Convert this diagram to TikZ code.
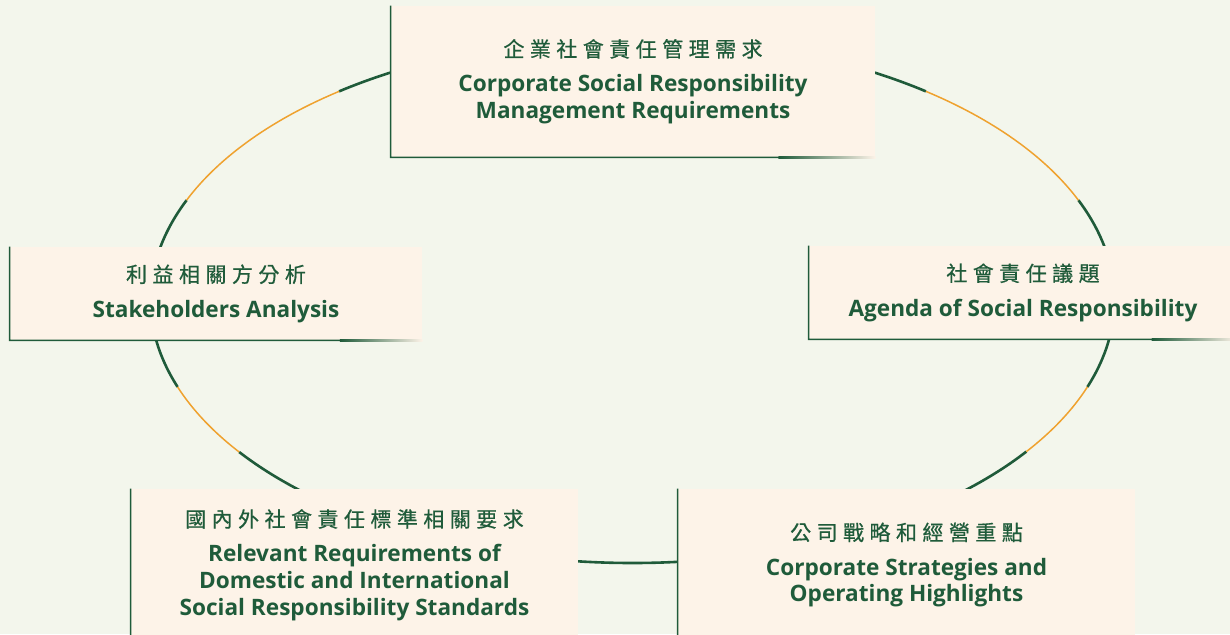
\documentclass[tikz,border=0pt]{standalone}
\usepackage{fontspec}
\usepackage{tikz}
\usetikzlibrary{calc}
\setmainfont{Open Sans}
\newfontfamily\cjk{Noto Sans CJK TC}[LetterSpace=26, FakeBold=0.6]
\newcommand{\zh}[1]{{\cjk\mdseries\fontsize{10.5}{13.4}\selectfont #1}}
\definecolor{csrgreen}{HTML}{1F5B3A}
\definecolor{csrorange}{HTML}{EFA22F}
\definecolor{boxfill}{HTML}{FDF3E8}
\definecolor{pagebg}{HTML}{F3F6EC}
\tikzstyle{every node}+=[inner sep=0pt]
\tikzstyle{block} = [rectangle, fill=boxfill, text=csrgreen, font=\bfseries\fontsize{11.3}{13.4}\selectfont, align=center]
\tikzstyle{edge} = [draw=csrgreen, line width=0.8pt]
\tikzstyle{ring} = [csrgreen, line width=1.3pt]
\tikzstyle{ringmark} = [csrorange, line width=0.75pt]

\begin{document}
\begin{tikzpicture}[x=0.5pt, y=0.5pt]
            % Page
            \fill [pagebg] (0,0) rectangle (1230,-634);
            \useasboundingbox (0,0) rectangle (1230,-634);
            % Draw ring
            \foreach \s/\e in {-19.3/22.3, 52.5/127.5, 157.7/199.3, 215.3/324.8}
              \draw [ring] (632.5,-300) ++(\s:482 and 263) arc [start angle=\s, end angle=\e, x radius=482, y radius=263];
            \foreach \s/\e in {22.3/52.5, 127.5/157.7, 199.3/215.3, 324.8/340.7}
              \draw [ringmark] (632.5,-300) ++(\s:482 and 263) arc [start angle=\s, end angle=\e, x radius=482, y radius=263];
            % Place nodes
            \node [block, minimum width=242pt, minimum height=75.5pt] (csr) at (633,-81.5)
              {\zh{企業社會責任管理需求}\\[4pt]Corporate Social Responsibility\\Management Requirements};
            \node [block, minimum width=206pt, minimum height=46.5pt] (stake) at (216,-293.5)
              {\zh{利益相關方分析}\\[4pt]Stakeholders Analysis};
            \node [block, minimum width=214pt, minimum height=46.5pt] (agenda) at (1023,-292.5)
              {\zh{社會責任議題}\\[4pt]Agenda of Social Responsibility};
            \node [block, minimum width=223.5pt, minimum height=76pt] (standard) at (354.5,-565)
              {\zh{國內外社會責任標準相關要求}\\[4pt]Relevant Requirements of\\Domestic and International\\Social Responsibility Standards};
            \node [block, minimum width=228.5pt, minimum height=76pt] (strategy) at (906.5,-565)
              {\zh{公司戰略和經營重點}\\[4pt]Corporate Strategies and\\Operating Highlights};
            % Draw box edges
            \foreach \n in {csr, stake, agenda, standard, strategy} {
              \draw [edge] (\n.north west) -- (\n.south west) -- ($(\n.south west)!0.8!(\n.south east)$);
              \shade [left color=csrgreen, right color=boxfill] ($(\n.south west)!0.8!(\n.south east)+(0,-0.8)$) rectangle ($(\n.south east)+(0,0.8)$);
            }
\end{tikzpicture}
\end{document}
